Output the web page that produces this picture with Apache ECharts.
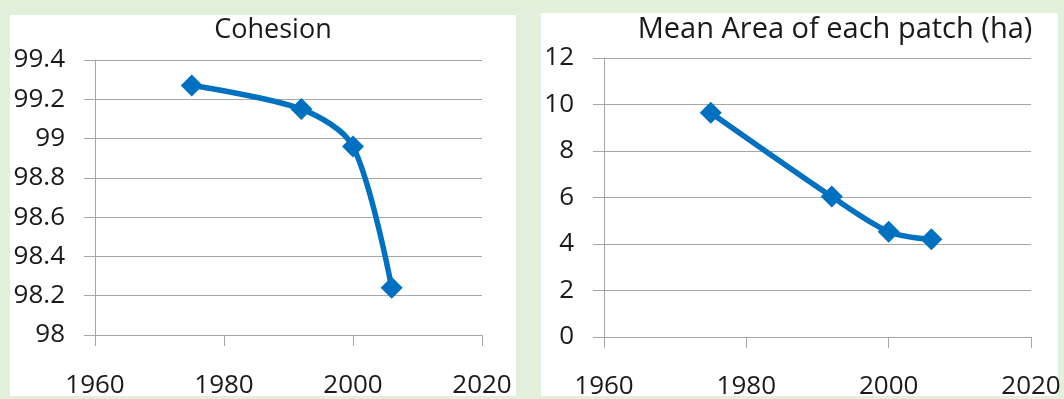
<!DOCTYPE html>
<html>
<head>
<meta charset="utf-8">
<title>Cohesion / Mean Area</title>
<script src="https://cdn.jsdelivr.net/npm/echarts@6/dist/echarts.min.js"></script>
<style>
  html, body { margin: 0; padding: 0; background: #e2efda; }
  #chart { width: 1064px; height: 399px; }
</style>
</head>
<body>
<div id="chart"></div>
<script>
// years shared by both panels
var years = [1975, 1992, 2000, 2006];
// left panel
var cohesion = [99.27, 99.15, 98.96, 98.24];
// right panel
var meanArea = [9.65, 6.04, 4.53, 4.2];

var xTicks = [1960, 1980, 2000, 2020];

var font = 'Open Sans';
var lineColor = '#0070c0';
var gridColor = '#a6a6a6';

function pairs(xs, ys) {
  return xs.map(function (x, i) { return [x, ys[i]]; });
}

function makeX(idx, fs, margin) {
  return {
    type: 'value',
    gridIndex: idx,
    min: xTicks[0],
    max: xTicks[xTicks.length - 1],
    interval: 20,
    axisLine: { show: true, lineStyle: { color: gridColor, width: 1 } },
    axisTick: { show: true, length: 11, lineStyle: { color: gridColor } },
    splitLine: { show: false },
    axisLabel: {
      fontFamily: font, fontSize: fs, color: '#1a1a1a', margin: margin,
      showMinLabel: true, showMaxLabel: true,
      formatter: function (v) { return String(v); } // no thousands comma
    }
  };
}

function makeY(idx, min, max, step, fs) {
  return {
    type: 'value',
    gridIndex: idx,
    min: min,
    max: max,
    interval: step,
    axisLine: { show: true, lineStyle: { color: gridColor, width: 1 } },
    axisTick: { show: true, length: 11, lineStyle: { color: gridColor } },
    splitLine: { show: true, lineStyle: { color: gridColor, width: 1 } },
    axisLabel: { fontFamily: font, fontSize: fs, color: '#1a1a1a', margin: 30 }
  };
}

function makeLine(idx, data) {
  return {
    type: 'line',
    xAxisIndex: idx,
    yAxisIndex: idx,
    data: data,
    smooth: 0.3,
    symbol: 'diamond',
    symbolSize: 22,
    showAllSymbol: true,
    lineStyle: { color: lineColor, width: 5.5 },
    itemStyle: { color: lineColor },
    z: 3
  };
}

var chart = echarts.init(document.getElementById('chart'));
chart.setOption({
  backgroundColor: '#e2efda',
  animation: false,
  graphic: [
    { type: 'rect', shape: { x: 10, y: 15, width: 506, height: 381 }, style: { fill: '#fff' }, z: -10 },
    { type: 'rect', shape: { x: 541, y: 13, width: 517, height: 383 }, style: { fill: '#fff' }, z: -10 },
    // bottom border strip covers the cut-off tick labels
    { type: 'rect', shape: { x: 0, y: 396, width: 1064, height: 3 }, style: { fill: '#e2efda' }, z: 100 }
  ],
  title: [
    { text: 'Cohesion', left: 268, top: 12, textAlign: 'center',
      textStyle: { fontFamily: font, fontSize: 27, fontWeight: 'normal', color: '#1a1a1a' } },
    { text: 'Mean Area of each patch (ha)', left: 830, top: 10, textAlign: 'center',
      textStyle: { fontFamily: font, fontSize: 29, fontWeight: 'normal', color: '#1a1a1a' } }
  ],
  grid: [
    { left: 95, right: 582, top: 60, bottom: 64, outerBoundsMode: 'none' },
    { left: 604, right: 33, top: 58, bottom: 62, outerBoundsMode: 'none' }
  ],
  xAxis: [makeX(0, 26, 38), makeX(1, 26, 37)],
  yAxis: [makeY(0, 98, 99.4, 0.2, 26), makeY(1, 0, 12, 2, 26)],
  series: [
    makeLine(0, pairs(years, cohesion)),
    makeLine(1, pairs(years, meanArea))
  ]
});
</script>
</body>
</html>
